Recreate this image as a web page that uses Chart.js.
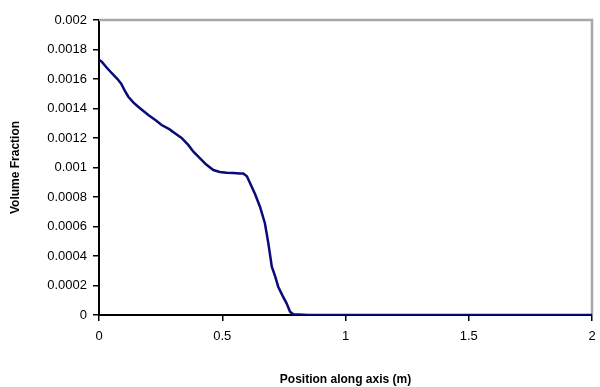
<!DOCTYPE html>
<html>
<head>
<meta charset="utf-8">
<script src="https://cdn.jsdelivr.net/npm/chart.js@4"></script>
<style>
  html, body { margin: 0; padding: 0; background: #fff; }
  #wrap { width: 600px; height: 387px; }
</style>
</head>
<body>
<div id="wrap"><canvas id="myChart" width="600" height="387"></canvas></div>
<script>
// values
var positions = [0, 0.011, 0.03, 0.052, 0.075, 0.09, 0.105, 0.119, 0.14, 0.159, 0.2, 0.23, 0.254, 0.285, 0.308, 0.335, 0.362, 0.383, 0.403, 0.435, 0.464, 0.49, 0.518, 0.545, 0.572, 0.585, 0.6, 0.613, 0.633, 0.653, 0.673, 0.687, 0.701, 0.715, 0.727, 0.745, 0.761, 0.775, 0.788, 0.85, 1.0, 1.5, 2.0];
var fractions = [0.00173, 0.001717, 0.00168, 0.001639, 0.0016, 0.001568, 0.00152, 0.00148, 0.00144, 0.001412, 0.001356, 0.00132, 0.001288, 0.00126, 0.001232, 0.0012, 0.001153, 0.001107, 0.001073, 0.00102, 0.000983, 0.00097, 0.000965, 0.000962, 0.00096, 0.00096, 0.00094, 0.000893, 0.00082, 0.000734, 0.000622, 0.000486, 0.000328, 0.00026, 0.000192, 0.00013, 0.000079, 0.000022, 0.000005, 0, 0, 0, 0];
var xTicks = [0, 0.5, 1, 1.5, 2];
var yTicks = [0, 0.0002, 0.0004, 0.0006, 0.0008, 0.001, 0.0012, 0.0014, 0.0016, 0.0018, 0.002];

var points = positions.map(function(p, i) { return { x: p, y: fractions[i] }; });

var frame = {
    id: 'frame',
    beforeDatasetsDraw: function(chart) {
        var a = chart.chartArea;
        var ctx = chart.ctx;
        ctx.save();
        ctx.strokeStyle = '#a8a8a8';
        ctx.lineWidth = 2.5;
        ctx.beginPath();
        ctx.moveTo(a.left, a.top);
        ctx.lineTo(a.right, a.top);
        ctx.lineTo(a.right, a.bottom);
        ctx.stroke();
        ctx.restore();
    }
};

var font = { family: 'Arial, "Liberation Sans", sans-serif', size: 13 };
var ctx = document.getElementById('myChart').getContext('2d');
var myChart = new Chart(ctx, {
    type: 'scatter',
    data: {
        datasets: [{
            data: points,
            showLine: true,
            borderColor: '#0a0a78',
            borderWidth: 2.5,
            pointRadius: 0,
            tension: 0
        }]
    },
    options: {
        responsive: false,
        animation: false,
        layout: { padding: { left: 0, right: 8, top: 20, bottom: 0 } },
        plugins: { legend: { display: false }, tooltip: { enabled: false } },
        scales: {
            x: {
                type: 'linear',
                min: 0, max: 2,
                afterBuildTicks: function(axis) { axis.ticks = xTicks.map(function(v) { return { value: v }; }); },
                ticks: { color: '#000', font: font, padding: 8, maxRotation: 0,
                    callback: function(v) { return String(v); } },
                grid: { drawOnChartArea: false, drawTicks: true, tickLength: 6, color: '#000', lineWidth: 1.5 },
                border: { color: '#000', width: 2 },
                title: { display: true, text: 'Position along axis (m)', color: '#000',
                    font: { family: font.family, size: 12, weight: 'bold' }, padding: { top: 10, bottom: 0 } },
                afterFit: function(axis) {
                    axis.height = 72;
                    axis.paddingRight = 0;
                    axis.paddingLeft = 0;
                }
            },
            y: {
                min: 0, max: 0.002,
                afterBuildTicks: function(axis) { axis.ticks = yTicks.map(function(v) { return { value: v }; }); },
                ticks: { color: '#000', font: font, padding: 6,
                    callback: function(v) { return String(+v.toFixed(4)); } },
                grid: { drawOnChartArea: false, drawTicks: true, tickLength: 6, color: '#000', lineWidth: 1.5 },
                border: { color: '#000', width: 2 },
                title: { display: true, text: 'Volume Fraction', color: '#000',
                    font: { family: font.family, size: 12, weight: 'bold' }, padding: { top: 8, bottom: 4 } },
                afterFit: function(axis) {
                    axis.width = 99;
                    axis.paddingTop = 0;
                    axis.paddingBottom = 0;
                }
            }
        }
    },
    plugins: [frame]
});
</script>
</body>
</html>
